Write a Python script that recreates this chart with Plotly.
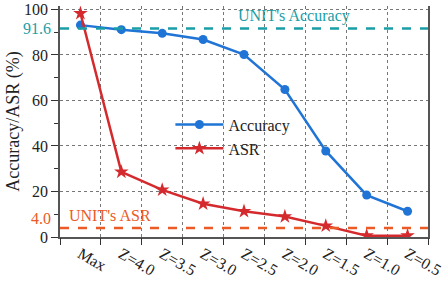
import plotly.graph_objects as go

categories = ["Max", "Z=4.0", "Z=3.5", "Z=3.0", "Z=2.5", "Z=2.0", "Z=1.5", "Z=1.0", "Z=0.5"]
accuracy = [93.1, 91.1, 89.5, 86.8, 80.2, 64.8, 37.8, 18.4, 11.3]
asr = [98.3, 28.6, 20.7, 14.6, 11.3, 9.0, 4.9, 0.6, 0.6]
unit_accuracy = 91.6
unit_asr = 4.0
y_ticks = [0, 20, 40, 60, 80, 100]

FONT = "Liberation Serif, Times New Roman, serif"
BLUE = "#1f74d6"
RED = "#d42a2e"
TEAL = "#1a9ea6"
ORANGE = "#ec5a25"

xs = list(range(len(categories)))
fig = go.Figure()
fig.add_trace(go.Scatter(x=xs, y=accuracy, mode="lines+markers", name="Accuracy",
                         line=dict(color=BLUE, width=2.5),
                         marker=dict(symbol="circle", size=9, color=BLUE)))
fig.add_trace(go.Scatter(x=xs, y=asr, mode="lines+markers", name="ASR",
                         line=dict(color=RED, width=2.5),
                         marker=dict(symbol="star", size=11, color=RED)))
# invisible trace to anchor the tick/grid axis
fig.add_trace(go.Scatter(x=[-0.5, 8.5], y=[0, 0], xaxis="x2", mode="lines",
                         line=dict(width=0), showlegend=False, hoverinfo="skip"))

fig.add_hline(y=unit_accuracy, line=dict(color=TEAL, width=2.5, dash="dash"))
fig.add_hline(y=unit_asr, line=dict(color=ORANGE, width=2.5, dash="dash"))

fig.add_annotation(x=0.793, xref="paper", y=97.2, yref="y", text="UNIT's Accuracy",
                   showarrow=False, font=dict(family=FONT, size=16, color=TEAL))
fig.add_annotation(x=0.02, xref="paper", xanchor="left", y=9.5, yref="y", text="UNIT's ASR",
                   showarrow=False, font=dict(family=FONT, size=16, color=ORANGE))
fig.add_annotation(x=0, xref="paper", xanchor="right", xshift=-7, y=unit_accuracy, yref="y",
                   text=f"{unit_accuracy:.1f}", showarrow=False,
                   font=dict(family=FONT, size=16, color=TEAL))
fig.add_annotation(x=0, xref="paper", xanchor="right", xshift=-7, y=unit_asr + 4.2, yref="y",
                   text=f"{unit_asr:.1f}", showarrow=False,
                   font=dict(family=FONT, size=16, color=ORANGE))

fig.update_layout(
    width=446, height=289,
    margin=dict(l=60, r=18, t=6, b=52),
    plot_bgcolor="white", paper_bgcolor="white",
    font=dict(family=FONT, size=16, color="#222"),
    showlegend=True,
    legend=dict(x=0.30, y=0.56, xanchor="left", yanchor="top", bgcolor="rgba(0,0,0,0)",
                font=dict(family=FONT, size=16), tracegroupgap=0, itemwidth=48),
    xaxis=dict(range=[-0.5, 8.5], tickmode="array", tickvals=xs, ticktext=categories,
               tickangle=30, ticks="", showgrid=False, showline=True, linecolor="#555",
               linewidth=1.5, zeroline=False, automargin=False, ticklabeloverflow="allow",
               tickfont=dict(family=FONT, size=16)),
    xaxis2=dict(range=[-0.5, 8.5], overlaying="x", side="bottom", tickmode="array",
                tickvals=[i - 0.5 for i in range(len(categories) + 1)], ticks="outside",
                ticklen=7, tickcolor="#333", showticklabels=False, showgrid=True,
                gridcolor="#777", griddash="dot", gridwidth=1, showline=False, zeroline=False),
    yaxis=dict(range=[0, 101.5], tickmode="array", tickvals=y_ticks, ticks="outside", ticklen=7,
               tickcolor="#333", showgrid=True, gridcolor="#777", griddash="dot", gridwidth=1,
               showline=True, linecolor="#555", linewidth=1.5, mirror=True, zeroline=False,
               automargin=False, ticklabeloverflow="allow",
               minor=dict(ticks="outside", dtick=10, ticklen=4, tickcolor="#333", showgrid=False),
               title=dict(text="Accuracy/ASR (%)", font=dict(family=FONT, size=18), standoff=0),
               tickfont=dict(family=FONT, size=16)),
)
fig.write_html("out.html", config={"displayModeBar": False},
               post_script="document.body.style.margin='0';")
